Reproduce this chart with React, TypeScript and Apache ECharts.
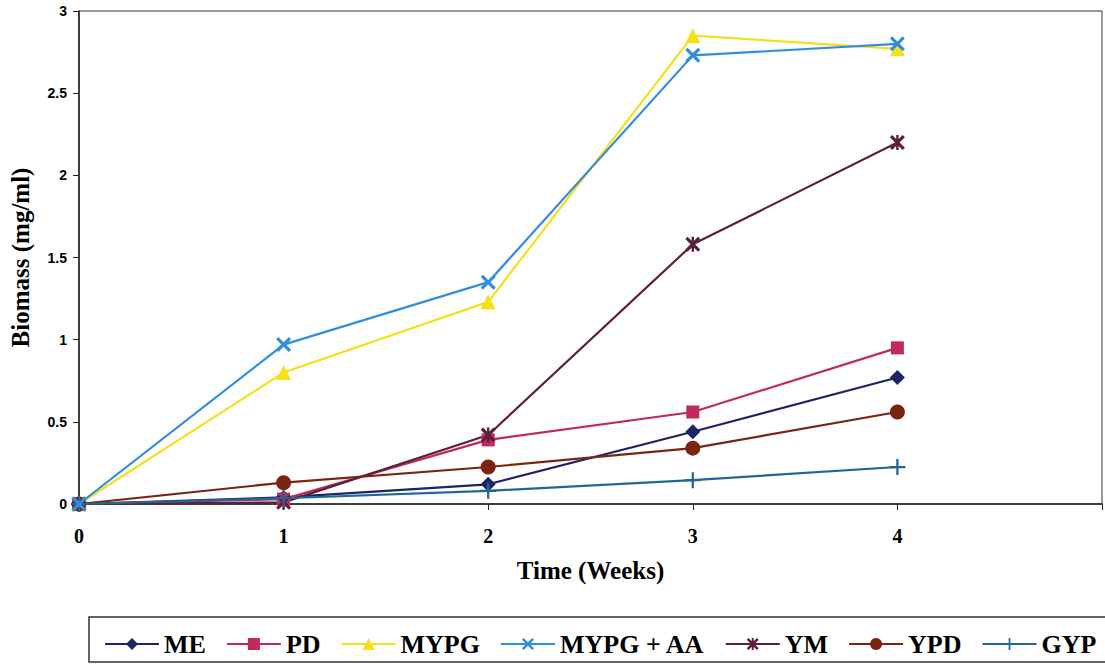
import React, { useEffect, useRef } from "react";
import * as echarts from "echarts";

const weeks = [0, 1, 2, 3, 4];
const seriesNames = ["ME", "PD", "MYPG", "MYPG + AA", "YM", "YPD", "GYP"];
const ME = [0, 0.04, 0.12, 0.44, 0.77];
const PD = [0, 0.03, 0.39, 0.56, 0.95];
const MYPG = [0, 0.8, 1.23, 2.85, 2.77];
const MYPG_AA = [0, 0.97, 1.35, 2.73, 2.8];
const YM = [0, 0.01, 0.42, 1.58, 2.2];
const YPD = [0, 0.13, 0.225, 0.34, 0.56];
const GYP = [0, 0.035, 0.08, 0.145, 0.225];
const yTicks = [0, 0.5, 1, 1.5, 2, 2.5, 3];
const xTicks = [0, 1, 2, 3, 4];

const colors = ["#1c2466", "#c02a5c", "#f4e11c", "#2f8ee0", "#5c1f3e", "#7c2412", "#1f6896"];
const xPath = "path://M1.5,0 L5,3.5 L8.5,0 L10,1.5 L6.5,5 L10,8.5 L8.5,10 L5,6.5 L1.5,10 L0,8.5 L3.5,5 L0,1.5 Z";
const starPath =
  "path://M1.5,0 L5,3.5 L8.5,0 L10,1.5 L6.5,5 L10,8.5 L8.5,10 L5,6.5 L1.5,10 L0,8.5 L3.5,5 L0,1.5 Z M4.2,0 L5.8,0 L5.8,10 L4.2,10 Z";
const plusPath =
  "path://M4.3,0 L5.7,0 L5.7,4.3 L10,4.3 L10,5.7 L5.7,5.7 L5.7,10 L4.3,10 L4.3,5.7 L0,5.7 L0,4.3 L4.3,4.3 Z";
const symbols = ["diamond", "rect", "triangle", xPath, starPath, "circle", plusPath];
const symbolSizes = [15, 13, 15, 15, 15, 15, 16];
const values = [ME, PD, MYPG, MYPG_AA, YM, YPD, GYP];

export default function App() {
  const ref = useRef<HTMLDivElement>(null);
  useEffect(() => {
    if (!ref.current) return;
    const chart = echarts.init(ref.current, undefined, { renderer: "svg" });
    const serif = "'Liberation Serif', 'Times New Roman', serif";
    chart.setOption({
      animation: false,
      backgroundColor: "#ffffff",
      grid: {
        left: 76,
        right: 0,
        top: 11,
        bottom: 160,
        show: true,
        borderColor: "#333",
        borderWidth: 1,
      },
      xAxis: {
        type: "value",
        min: 0,
        max: 5,
        interval: 1,
        name: "Time (Weeks)",
        nameLocation: "middle",
        nameGap: 54,
        nameTextStyle: { fontFamily: serif, fontWeight: "bold", fontSize: 25, color: "#000" },
        axisLine: { lineStyle: { color: "#222", width: 1.5 } },
        axisTick: { show: true, length: 6, lineStyle: { color: "#222" } },
        splitLine: { show: false },
        axisLabel: {
          margin: 22,
          fontFamily: serif,
          fontWeight: "bold",
          fontSize: 20,
          color: "#000",
          formatter: (v: number) => (xTicks.includes(v) ? String(v) : ""),
        },
      },
      yAxis: {
        type: "value",
        min: 0,
        max: 3,
        interval: 0.5,
        name: "Biomass (mg/ml)",
        nameLocation: "middle",
        nameGap: 46,
        nameTextStyle: { fontFamily: serif, fontWeight: "bold", fontSize: 25, color: "#000" },
        axisLine: { show: true, lineStyle: { color: "#222", width: 1.5 } },
        axisTick: { show: true, length: 6, lineStyle: { color: "#222" } },
        splitLine: { show: false },
        axisLabel: {
          margin: 12,
          fontFamily: "'Liberation Sans', Arial, sans-serif",
          fontWeight: "bold",
          fontSize: 14,
          color: "#000",
          formatter: (v: number) => (yTicks.includes(v) ? String(v) : ""),
        },
      },
      legend: {
        left: 99,
        top: 626,
        itemWidth: 54,
        itemHeight: 15,
        itemGap: 20,
        textStyle: { fontFamily: serif, fontWeight: "bold", fontSize: 26, color: "#000" },
        data: seriesNames,
      },
      graphic: [
        {
          type: "rect",
          shape: { x: 89, y: 617, width: 1030, height: 45 },
          style: { fill: "none", stroke: "#333", lineWidth: 1.5 },
          silent: true,
        },
      ],
      series: seriesNames.map((name, i) => ({
        name,
        type: "line",
        data: weeks.map((w, j) => [w, values[i][j]]),
        symbol: symbols[i],
        symbolSize: symbolSizes[i],
        showAllSymbol: true,
        color: colors[i],
        lineStyle: { width: 2.2, color: colors[i] },
        itemStyle: { color: colors[i] },
        z: i === 3 ? 6 : 5,
      })),
    });
    return () => chart.dispose();
  }, []);
  return (
    <div
      ref={ref}
      style={{ position: "absolute", left: 0, top: 0, width: 1105, height: 664, background: "#fff" }}
    />
  );
}
